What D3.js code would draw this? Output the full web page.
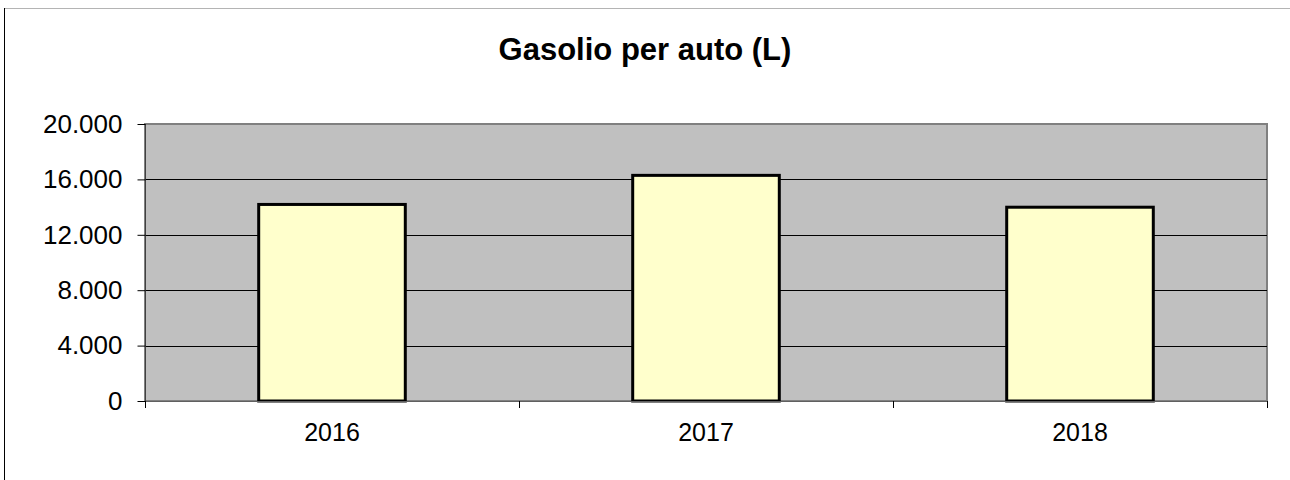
<!DOCTYPE html>
<html>
<head>
<meta charset="utf-8">
<script src="https://cdn.jsdelivr.net/npm/d3@7"></script>
<style>
	body { margin: 0; background: #fff; }
	svg { display: block; font-family: "Liberation Sans", Arial, sans-serif; }
</style>
</head>
<body>
<div id="chart"></div>
<script>
/* dati del grafico */
var years = ["2016", "2017", "2018"];
var litres = [14300, 16400, 14100];
var yTicks = [0, 4000, 8000, 12000, 16000, 20000];
var chartTitle = "Gasolio per auto (L)";

var width = 1290, height = 480;
var plot = {left: 145, top: 124, right: 1267, bottom: 401};

var svg = d3.select("#chart").append("svg")
	.attr("width", width)
	.attr("height", height);

/* cornice esterna (tagliata a destra e in basso) */
svg.append("line")
	.attr("x1", 4).attr("x2", width).attr("y1", 8.5).attr("y2", 8.5)
	.attr("stroke", "#b4b4b4").attr("stroke-width", 1);
svg.append("line")
	.attr("x1", 4.5).attr("x2", 4.5).attr("y1", 8).attr("y2", height)
	.attr("stroke", "#000").attr("stroke-width", 1);

var xScale = d3.scaleBand()
	.domain(years)
	.range([plot.left, plot.right])
	.paddingInner(0.6)
	.paddingOuter(0.3);

var yScale = d3.scaleLinear()
	.domain([0, 20000])
	.range([plot.bottom, plot.top]);

/* area del grafico */
svg.append("rect")
	.attr("x", plot.left)
	.attr("y", plot.top)
	.attr("width", plot.right - plot.left)
	.attr("height", plot.bottom - plot.top)
	.attr("fill", "#c0c0c0")
	.attr("stroke", "#808080")
	.attr("stroke-width", 2);

/* griglia */
svg.append("g").selectAll("line")
	.data(yTicks.filter(d => d > 0 && d < 20000))
	.enter().append("line")
	.attr("x1", plot.left).attr("x2", plot.right)
	.attr("y1", d => Math.round(yScale(d)) + 0.5)
	.attr("y2", d => Math.round(yScale(d)) + 0.5)
	.attr("stroke", "#000")
	.attr("stroke-width", 1);

/* barre */
svg.append("g").selectAll("rect")
	.data(litres)
	.enter().append("rect")
	.attr("x", (d, i) => xScale(years[i]) + 1.5)
	.attr("y", d => yScale(d) + 1.5)
	.attr("width", xScale.bandwidth() - 3)
	.attr("height", d => plot.bottom - yScale(d) - 1.5)
	.attr("fill", "#ffffcc")
	.attr("stroke", "#000")
	.attr("stroke-width", 3);

/* asse y */
var yAxis = d3.axisLeft(yScale)
	.tickValues(yTicks)
	.tickSize(8)
	.tickPadding(15)
	.tickFormat(d => d3.format(",")(d).replace(/,/g, "."));

var gy = svg.append("g")
	.attr("transform", "translate(" + (plot.left + 0.5) + ",0)")
	.call(yAxis);
gy.select(".domain").attr("stroke", "#404040").attr("d", "M0," + plot.top + "V" + plot.bottom);
gy.selectAll(".tick line").attr("stroke", "#000");
gy.selectAll("text")
	.attr("font-size", 26)
	.attr("fill", "#000")
	.attr("font-family", "Liberation Sans, Arial, sans-serif");

/* asse x */
var xEdges = d3.scaleLinear().domain([0, years.length]).range([plot.left, plot.right]);
var gx = svg.append("g");
gx.append("line")
	.attr("x1", plot.left).attr("x2", plot.right)
	.attr("y1", plot.bottom + 0.5).attr("y2", plot.bottom + 0.5)
	.attr("stroke", "#606060").attr("stroke-width", 1);
gx.selectAll("line.tk")
	.data(d3.range(years.length + 1))
	.enter().append("line")
	.attr("class", "tk")
	.attr("x1", d => Math.round(xEdges(d)) + 0.5)
	.attr("x2", d => Math.round(xEdges(d)) + 0.5)
	.attr("y1", plot.bottom)
	.attr("y2", plot.bottom + 7)
	.attr("stroke", "#000");
gx.selectAll("text")
	.data(years)
	.enter().append("text")
	.attr("x", d => xScale(d) + xScale.bandwidth() / 2)
	.attr("y", 441)
	.attr("text-anchor", "middle")
	.attr("font-size", 25)
	.text(d => d);

/* titolo */
svg.append("text")
	.attr("x", 645)
	.attr("y", 60)
	.attr("text-anchor", "middle")
	.attr("font-size", 31)
	.attr("font-weight", "bold")
	.text(chartTitle);
</script>
</body>
</html>
